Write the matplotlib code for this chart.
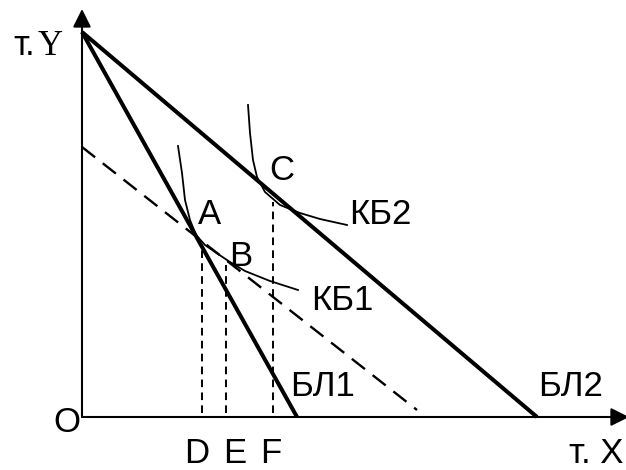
#!/usr/bin/env python3

import matplotlib
matplotlib.use("Agg")
import matplotlib.pyplot as plt

# budget lines: y-intercept and x-intercept
BL_Y0 = 385
BL1_X0 = 215
BL2_X0 = 455
# compensating (dashed) line: start and end points
COMP_X = [0, 335]
COMP_Y = [270, 7]

# indifference curves
KB1_X = [96, 100, 103, 108, 114, 123, 133, 148, 163, 188, 216]
KB1_Y = [271, 244, 217, 197, 182, 172, 165, 155, 146, 136, 127]
KB2_X = [166, 168, 171, 175, 183, 198, 218, 238, 265]
KB2_Y = [312, 284, 257, 240, 225, 212, 204, 198, 192]

# vertical guides D, E, F
GUIDE_X = [120, 144, 191]
GUIDE_TOP = [170, 152, 215]
GUIDE_NAMES = ["D", "E", "F"]
GUIDE_LABEL_X = [115, 153, 189]

# point / curve labels
LABELS = ["А", "В", "С", "КБ2", "КБ1", "БЛ1", "БЛ2"]
LABEL_X = [128, 159, 200, 298, 260, 241, 489]
LABEL_Y = [202, 160, 246, 203, 117, 30, 30]

plt.rcParams["lines.scale_dashes"] = False
plt.rcParams["font.family"] = ["Liberation Sans", "DejaVu Sans"]
FS = 25

fig = plt.figure(figsize=(6.26, 4.70), dpi=100)
ax = fig.add_axes([0, 0, 1, 1])
ax.set_xlim(-82, 544)
ax.set_ylim(-53, 417)
ax.axis("off")

# axes with arrows
arrow_kw = dict(arrowstyle="-|>,head_length=1.1,head_width=0.55", mutation_scale=10,
                color="k", lw=1.5, shrinkA=0, shrinkB=0)
ax.annotate("", xy=(0, 408), xytext=(0, 0), arrowprops=arrow_kw, annotation_clip=False)
ax.annotate("", xy=(547, 0), xytext=(0, 0), arrowprops=arrow_kw, annotation_clip=False)

# budget lines
ax.plot([0, BL1_X0], [BL_Y0, 0], color="k", lw=2.9, solid_capstyle="butt")
ax.plot([0, BL2_X0], [BL_Y0, 0], color="k", lw=2.9, solid_capstyle="butt")
ax.plot(COMP_X, COMP_Y, color="k", lw=1.7, dashes=(12, 7))

# indifference curves
ax.plot(KB1_X, KB1_Y, color="k", lw=1.3)
ax.plot(KB2_X, KB2_Y, color="k", lw=1.3)

# vertical guides
for gx, gt, lx, name in zip(GUIDE_X, GUIDE_TOP, GUIDE_LABEL_X, GUIDE_NAMES):
    ax.plot([gx, gx], [4, gt], color="k", lw=1.4, dashes=(5.5, 3.8))
    ax.text(lx, -46, name, fontsize=FS, ha="center", va="baseline")

for lab, lx, ly in zip(LABELS, LABEL_X, LABEL_Y):
    ax.text(lx, ly, lab, fontsize=FS, ha="center", va="center")

ax.text(-15, -6, "O", fontsize=FS, ha="center", va="center")
ax.text(-47, 362, "т.", fontsize=FS, ha="right", va="baseline")
ax.text(-44, 362, "Y", fontsize=FS, ha="left", va="baseline", family="Liberation Serif")
ax.text(541, -46, "т. X", fontsize=FS, ha="right", va="baseline")

fig.savefig("out.png", dpi=100)
